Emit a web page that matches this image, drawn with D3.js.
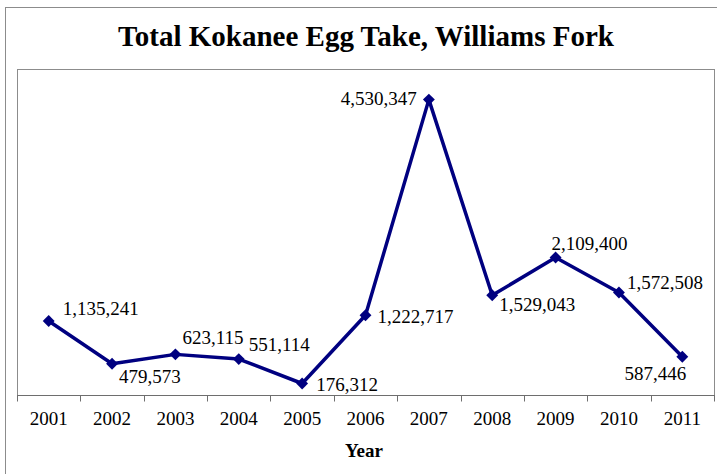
<!DOCTYPE html>
<html>
<head>
<meta charset="utf-8">
<script src="https://cdn.jsdelivr.net/npm/d3@7"></script>
<style>
  body { margin: 0; background: #fff; }
</style>
</head>
<body>
<div id="chart"></div>
<script>
// Data
var years = ["2001", "2002", "2003", "2004", "2005", "2006", "2007", "2008", "2009", "2010", "2011"];
var eggTake = [1135241, 479573, 623115, 551114, 176312, 1222717, 4530347, 1529043, 2109400, 1572508, 587446];
var yDomain = [0, 5000000];

// where each value label sits relative to its point (dx, dy, anchor)
var labelOffsets = [
  [14, -13, "start"], [7, 13, "start"], [7, -17, "start"], [10, -15, "start"],
  [14, 1, "start"], [12, 1, "start"], [-12, -1, "end"], [7, 9, "start"],
  [-4, -14, "start"], [8, -10, "start"], [4, 17, "end"]
];

var serif = "'Liberation Serif'";
var times = "'Times New Roman'";

function Linechart() {
  var w = 717;
  var h = 474;
  var plot = { left: 17, top: 69, right: 714, bottom: 395 };

  var svg = d3.select("#chart")
    .append("svg")
    .attr("width", w)
    .attr("height", h);

  // outer chart frame
  svg.append("rect")
    .attr("x", 5.5).attr("y", 7.5)
    .attr("width", w + 10).attr("height", h + 10)
    .attr("fill", "none")
    .attr("stroke", "#8c8c8c")
    .attr("stroke-width", 1);

  var xScale = d3.scaleBand()
    .domain(years)
    .range([plot.left, plot.right]);

  var yScale = d3.scaleLinear()
    .domain(yDomain)
    .range([plot.bottom, plot.top]);

  // plot area border
  svg.append("rect")
    .attr("x", plot.left + 0.5)
    .attr("y", plot.top + 0.5)
    .attr("width", plot.right - plot.left)
    .attr("height", plot.bottom - plot.top)
    .attr("fill", "none")
    .attr("stroke", "#8c8c8c");

  // x axis line and ticks (ticks sit between categories, Excel style)
  var xAxis = svg.append("g")
    .attr("transform", "translate(0," + (plot.bottom + 0.5) + ")");
  xAxis.append("line")
    .attr("x1", plot.left).attr("x2", plot.right + 1)
    .attr("stroke", "#6e6e6e");
  xAxis.selectAll(".tick")
    .data(years.concat(["end"]))
    .enter()
    .append("line")
    .attr("x1", function (d, i) { return Math.round(plot.left + i * xScale.step()) + 0.5; })
    .attr("x2", function (d, i) { return Math.round(plot.left + i * xScale.step()) + 0.5; })
    .attr("y1", 0).attr("y2", 6)
    .attr("stroke", "#6e6e6e");

  var cx = function (d, i) { return xScale(years[i]) + xScale.bandwidth() / 2; };
  var cy = function (d) { return yScale(d); };

  var line = d3.line().x(cx).y(cy);

  svg.append("path")
    .datum(eggTake)
    .attr("d", line)
    .attr("fill", "none")
    .attr("stroke", "#000080")
    .attr("stroke-width", 3.5)
    .attr("stroke-linejoin", "round");

  svg.selectAll(".marker")
    .data(eggTake)
    .enter()
    .append("path")
    .attr("d", d3.symbol().type(d3.symbolDiamond2).size(90))
    .attr("transform", function (d, i) { return "translate(" + cx(d, i) + "," + cy(d) + ")"; })
    .attr("fill", "#000080");

  var fmt = d3.format(",");
  svg.selectAll(".value")
    .data(eggTake)
    .enter()
    .append("text")
    .attr("x", function (d, i) { return cx(d, i) + labelOffsets[i][0]; })
    .attr("y", function (d, i) { return cy(d) + labelOffsets[i][1]; })
    .attr("dy", "0.35em")
    .attr("text-anchor", function (d, i) { return labelOffsets[i][2]; })
    .attr("font-family", serif)
    .attr("font-size", 19)
    .text(function (d) { return fmt(d); });

  // category labels
  svg.selectAll(".year")
    .data(years)
    .enter()
    .append("text")
    .attr("x", function (d) { return xScale(d) + xScale.bandwidth() / 2; })
    .attr("y", plot.bottom + 30)
    .attr("text-anchor", "middle")
    .style("font-family", times)
    .style("font-size", "19px")
    .text(function (d) { return d; });

  svg.append("text")
    .attr("x", 364)
    .attr("y", 457)
    .attr("text-anchor", "middle")
    .attr("font-family", serif)
    .attr("font-size", 19)
    .attr("font-weight", "bold")
    .text("Year");

  // title
  svg.append("text")
    .attr("x", 366)
    .attr("y", 46)
    .attr("text-anchor", "middle")
    .style("font-family", times)
    .style("font-size", "29px")
    .style("font-weight", "bold")
    .text("Total Kokanee Egg Take, Williams Fork");
}
window.onload = Linechart;
</script>
</body>
</html>
